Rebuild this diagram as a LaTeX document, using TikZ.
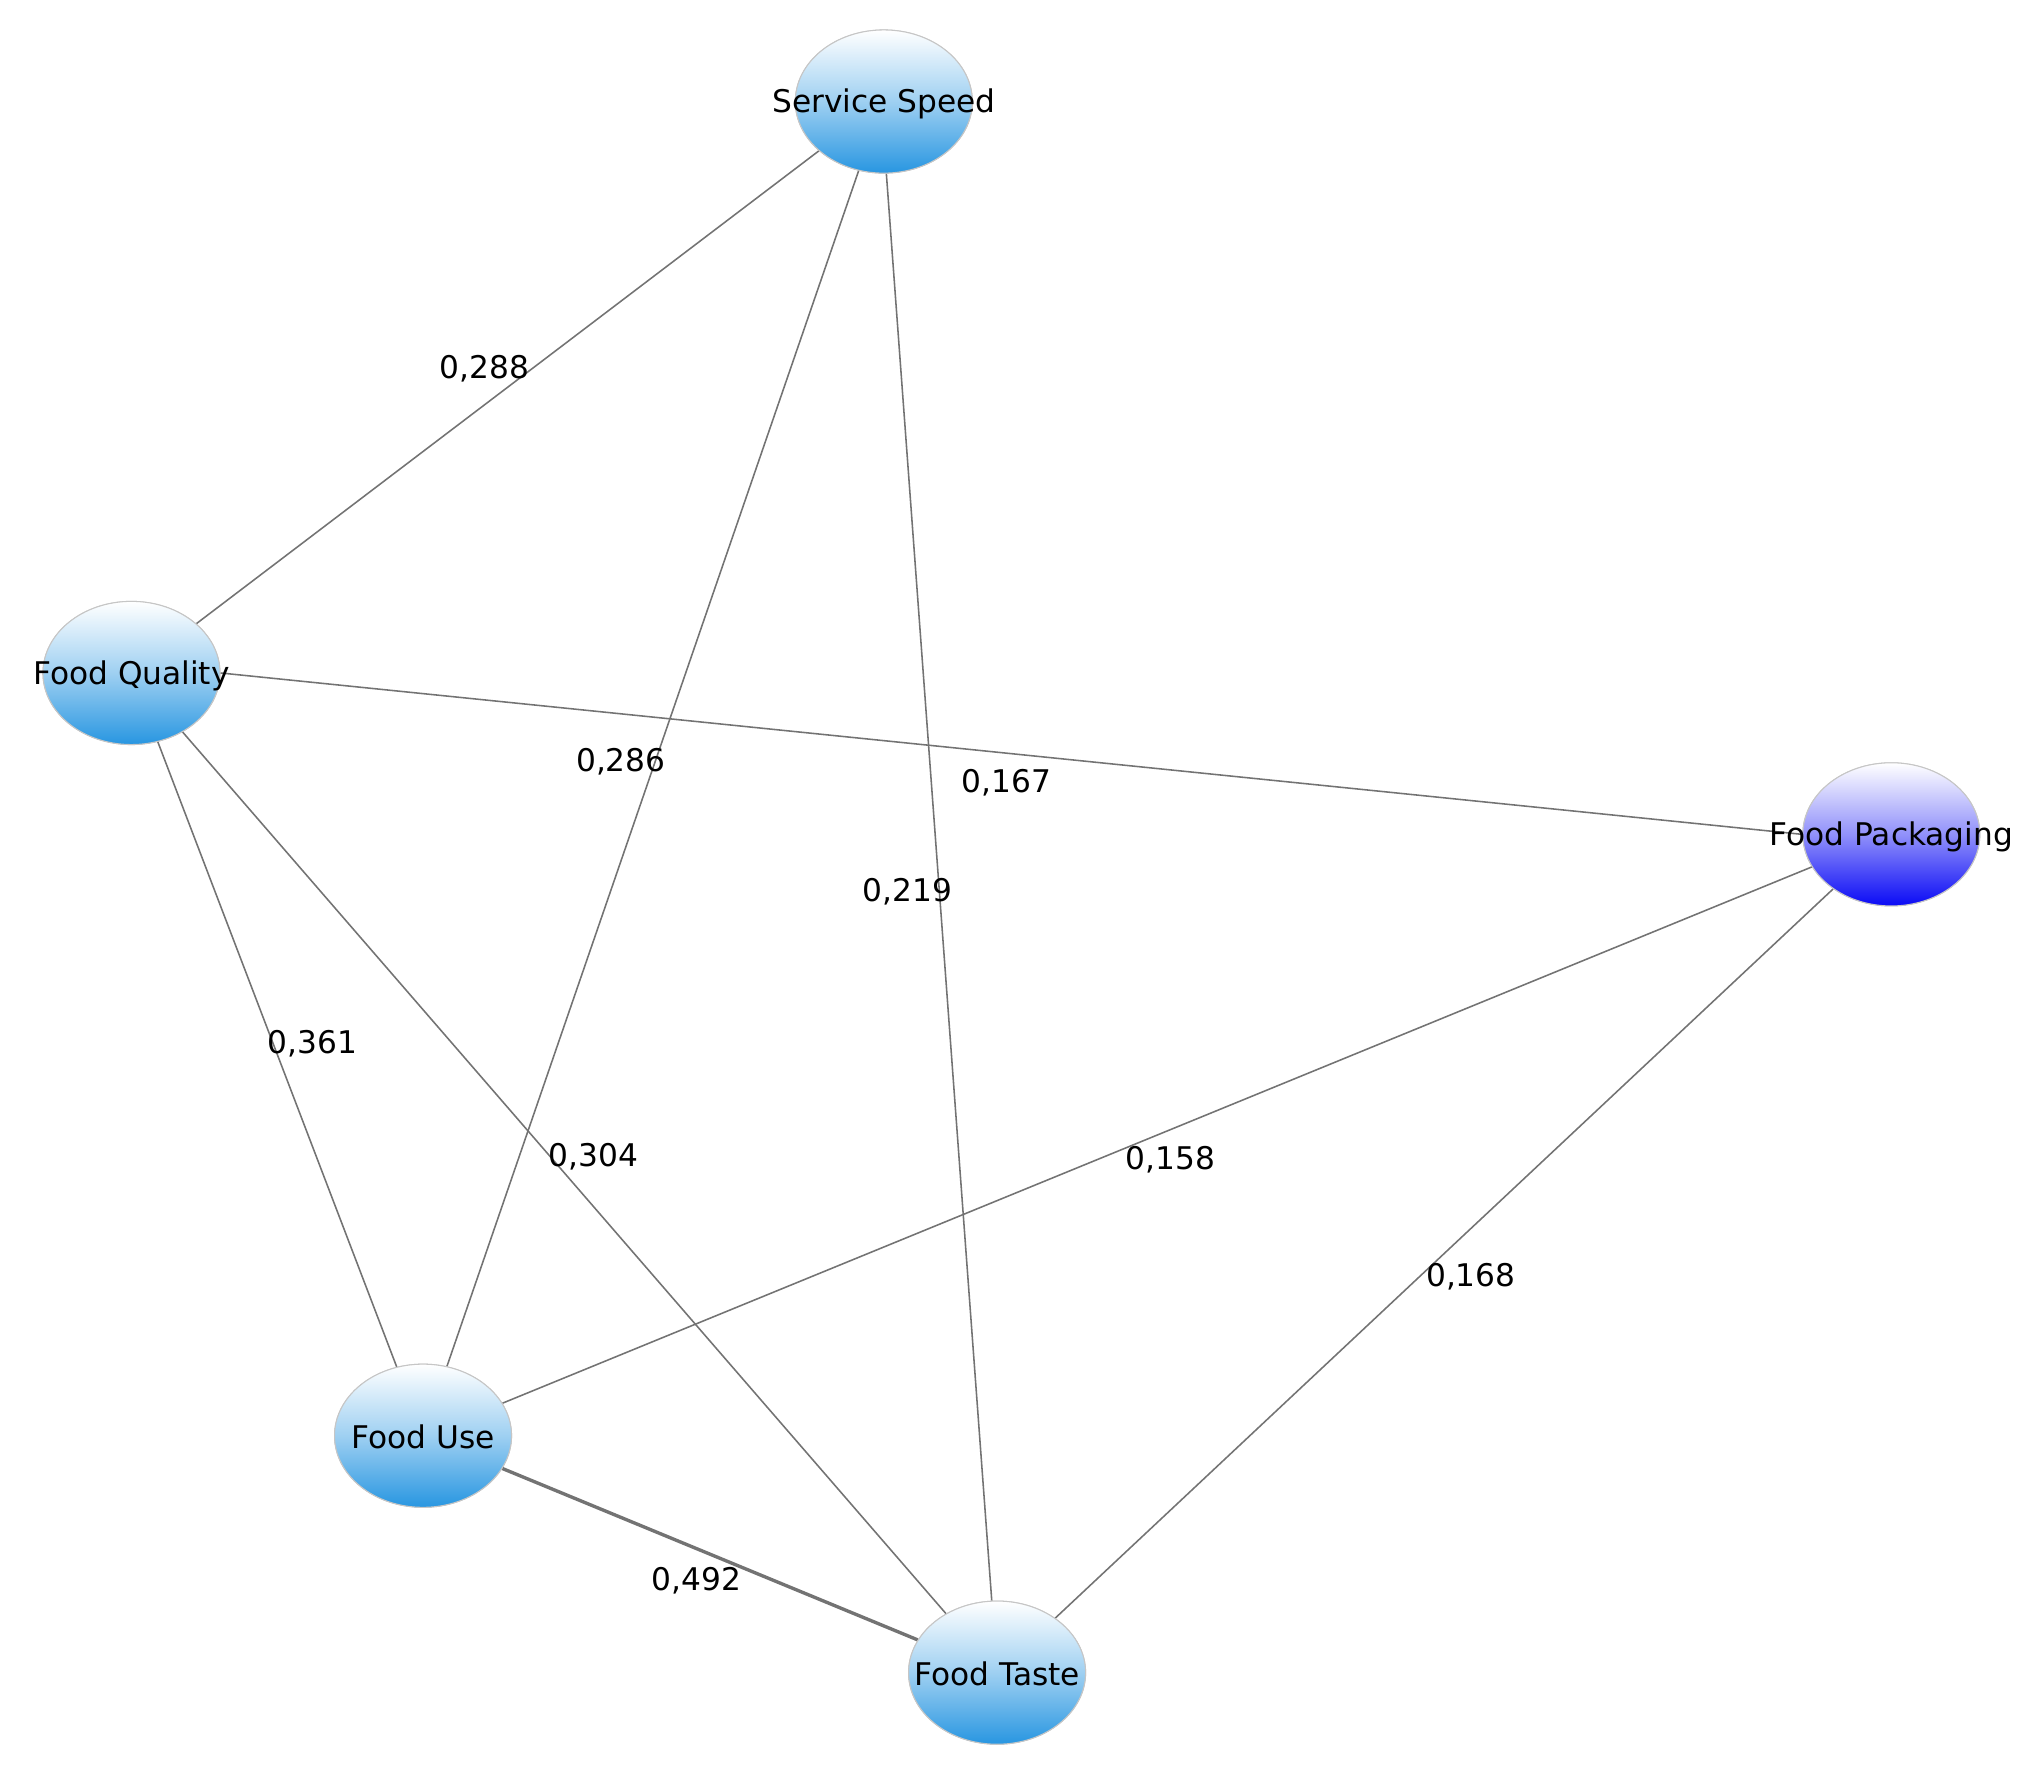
\documentclass[tikz,border=0pt]{standalone}
\usepackage{fontspec}
\setmainfont{DejaVu Sans}
\usetikzlibrary{shapes.geometric}
\definecolor{nodeblue}{RGB}{40,150,225}
\definecolor{packblue}{RGB}{10,10,245}
\begin{document}
\begin{tikzpicture}[x=1pt,y=-1pt,
  bub/.style={ellipse,draw=gray!45,line width=0.8pt,minimum width=136pt,minimum height=110pt,inner sep=0pt,top color=white,bottom color=nodeblue,middle color=nodeblue!45},
  pbub/.style={bub,top color=white,bottom color=packblue,middle color=packblue!45!white},
  txt/.style={font=\fontsize{24pt}{26pt}\selectfont,text=black},
  edge/.style={draw=gray!90!black,line width=1.2pt},
  wlab/.style={font=\fontsize{24pt}{26pt}\selectfont,text=black,inner sep=1pt}]
\useasboundingbox (0,0) rectangle (1568,1362);
\node[bub] (ss) at (679,78) {};
\node[bub] (fq) at (101,517) {};
\node[pbub] (fp) at (1453,641) {};
\node[bub] (fu) at (325,1103) {};
\node[bub] (ft) at (766,1285) {};
\path[edge] (ss) -- (fq);
\path[edge] (ss.250) -- (fu);
\path[edge] (ss.272) -- (ft);
\path[edge] (fq.east) -- (fp.west);
\path[edge] (fq) -- (fu);
\path[edge] (fq) -- (ft);
\path[edge] (fp) -- (fu);
\path[edge] (fp) -- (ft);
\path[edge,line width=2.6pt] (fu) -- (ft);
\node[bub] at (679,78) {};
\node[bub] at (101,517) {};
\node[pbub] at (1453,641) {};
\node[bub] at (325,1103) {};
\node[bub] at (766,1285) {};
\node[txt] (tss) at (679,80) {Service Speed};
\node[txt] (tfq) at (101,519) {Food Quality};
\node[txt] (tfp) at (1453,643) {Food Packaging};
\node[txt] (tfu) at (325,1104) {Food Use};
\node[txt] (tft) at (766,1286) {Food Taste};
\node[wlab] (l1) at (372,283) {0,288};
\node[wlab] (l2) at (477,585) {0,286};
\node[wlab] (l3) at (697,685) {0,219};
\node[wlab] (l4) at (773,601) {0,167};
\node[wlab] (l5) at (240,802) {0,361};
\node[wlab] (l6) at (456,889) {0,304};
\node[wlab] (l7) at (899,891) {0,158};
\node[wlab] (l8) at (1130,981) {0,168};
\node[wlab] (l9) at (535,1214) {0,492};
\end{tikzpicture}
\end{document}
